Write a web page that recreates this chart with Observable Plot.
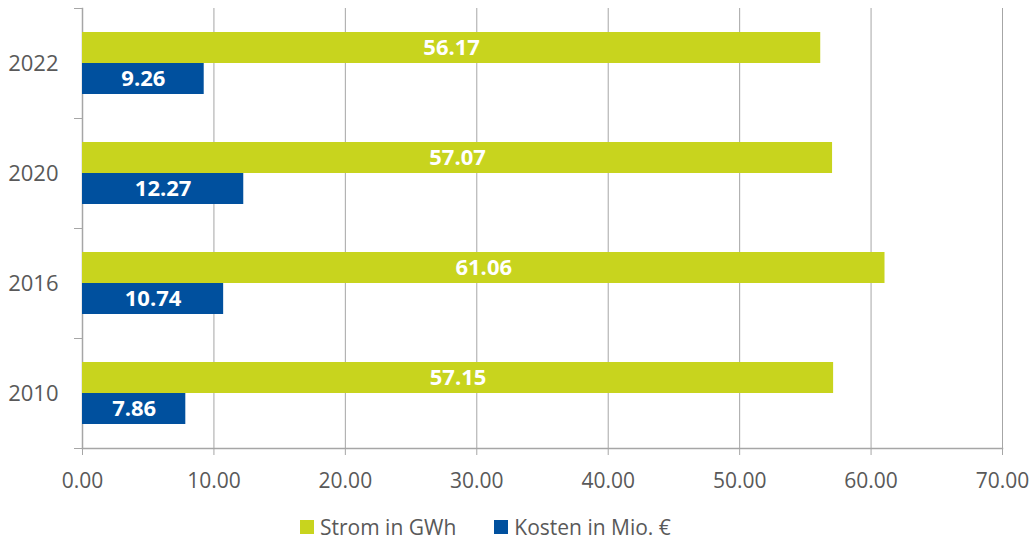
<!DOCTYPE html>
<html>
<head>
<meta charset="utf-8">
<script src="https://cdn.jsdelivr.net/npm/d3@7"></script>
<script src="https://cdn.jsdelivr.net/npm/@observablehq/plot@0.6"></script>
<style>
  html, body { margin: 0; padding: 0; background: #fff; }
  body { width: 1034px; height: 542px; overflow: hidden; font-family: "Open Sans", sans-serif; }
  #chart svg { display: block; }
  #legend { display: flex; justify-content: flex-start; gap: 38px; margin-left: 300px; margin-top: 13px; font-size: 21px; line-height: 28px; color: #595959; }
  #legend .item { display: flex; align-items: center; gap: 6px; }
  #legend .sw { width: 14px; height: 14px; display: inline-block; }
</style>
</head>
<body>
<div id="chart"></div>
<div id="legend"></div>
<script>
const years = ["2022", "2020", "2016", "2010"];
const strom = [56.17, 57.07, 61.06, 57.15];
const kosten = [9.26, 12.27, 10.74, 7.86];
const seriesNames = ["Strom in GWh", "Kosten in Mio. €"];
const seriesColors = ["#C8D41E", "#00509E"];
const xTicks = [0, 10, 20, 30, 40, 50, 60, 70];

const rows = years.map((y, i) => ({year: y, strom: strom[i], kosten: kosten[i]}));
const fmt = d3.format(".2f");
const grey = "#A6A6A6";
const textGrey = "#595959";

const chart = Plot.plot({
  width: 1034,
  height: 500,
  marginTop: 8,
  marginBottom: 52,
  marginLeft: 82,
  marginRight: 32,
  style: {fontFamily: "Open Sans, sans-serif", fontSize: "21px", color: textGrey, background: "#fff"},
  x: {domain: [0, 70], ticks: xTicks, tickFormat: fmt},
  y: {domain: years, padding: 0, label: null},
  marks: [
    Plot.gridX(xTicks, {stroke: grey, strokeOpacity: 1, strokeWidth: 1}),
    Plot.frame({anchor: "bottom", stroke: grey, strokeWidth: 1.5}),
    Plot.frame({anchor: "left", stroke: grey, strokeWidth: 1.5}),
    Plot.axisX(xTicks, {tickSize: 7, stroke: grey, tickPadding: 18, fill: textGrey, fontSize: 21, label: null, tickFormat: fmt}),
    Plot.axisY({tickSize: 0, tickPadding: 24, fill: textGrey, fontSize: 22, label: null}),
    Plot.axisY({tickSize: 8, text: null, stroke: grey, dy: -55, label: null}),
    Plot.axisY({tickSize: 8, text: null, stroke: grey, dy: 55, label: null}),
    Plot.barX(rows, {y: "year", x: "strom", fill: seriesColors[0], insetTop: 24, insetBottom: 55}),
    Plot.barX(rows, {y: "year", x: "kosten", fill: seriesColors[1], insetTop: 55, insetBottom: 24}),
    Plot.text(rows, {y: "year", x: d => d.strom / 2, text: d => fmt(d.strom), dy: -15.5, fill: "white", fontWeight: "bold", fontSize: 22}),
    Plot.text(rows, {y: "year", x: d => d.kosten / 2, text: d => fmt(d.kosten), dy: 15.5, fill: "white", fontWeight: "bold", fontSize: 22})
  ]
});
document.getElementById("chart").append(chart);

const legend = document.getElementById("legend");
seriesNames.forEach((name, i) => {
  const item = document.createElement("span");
  item.className = "item";
  const sw = document.createElement("span");
  sw.className = "sw";
  sw.style.background = seriesColors[i];
  item.append(sw, document.createTextNode(name));
  legend.append(item);
});
</script>
</body>
</html>
